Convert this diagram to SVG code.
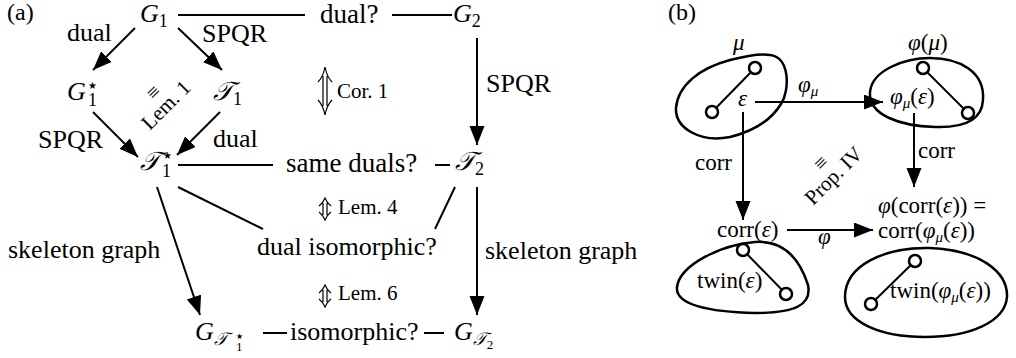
<svg xmlns="http://www.w3.org/2000/svg" width="1016" height="358" viewBox="0 0 1016 358" font-family="'Liberation Serif', 'Times New Roman', serif">
<defs>
<style>
text, tspan {font-family:'Liberation Serif', 'Times New Roman', serif}
text{fill:#000}
.t{font-size:26px}
.q{font-size:27px}
.s{font-size:21px}
.m{font-size:26px;font-style:italic}
.b{font-size:23px}
.bi{font-size:23px;font-style:italic}
.sub{font-size:18px;font-style:normal}
.ln{stroke:#000;stroke-width:2;fill:none}
.ar{stroke:#000;stroke-width:2;fill:none;marker-end:url(#ah)}
.dar{stroke:#000;stroke-width:1.2;fill:none}
.blob{stroke:#000;stroke-width:2.5;fill:none}
.v{stroke:#000;stroke-width:2.5;fill:#fff}
</style>
<marker id="ah" markerUnits="userSpaceOnUse" markerWidth="20" markerHeight="16" refX="19" refY="7.5" orient="auto">
<path d="M0,0 L19,7.5 L0,15 z" fill="#000"/>
</marker>
</defs>
<rect width="1016" height="358" fill="#fff"/>

<text class="t" x="7" y="20" style="font-size:24px">(a)</text>
<text class="t" x="668" y="20" style="font-size:24px">(b)</text>

<g id="connectors">
<line class="ln" x1="178" y1="15" x2="305" y2="15"/>
<line class="ln" x1="392" y1="15" x2="452" y2="15"/>
<line class="ln" x1="178" y1="165" x2="273" y2="165"/>
<line class="ln" x1="435" y1="165" x2="450" y2="165"/>
<line class="ln" x1="178" y1="187" x2="263" y2="229"/>
<line class="ln" x1="455" y1="187" x2="435" y2="229"/>
<line class="ln" x1="263" y1="333" x2="287" y2="333"/>
<line class="ln" x1="424" y1="333" x2="444" y2="333"/>
<line class="ar" x1="135" y1="28" x2="93" y2="70"/>
<line class="ar" x1="178" y1="28" x2="222" y2="70"/>
<line class="ar" x1="93" y1="112" x2="138" y2="157"/>
<line class="ar" x1="220" y1="112" x2="177" y2="155"/>
<line class="ar" x1="477" y1="38" x2="477" y2="145"/>
<line class="ar" x1="157" y1="187" x2="200" y2="315"/>
<line class="ar" x1="477" y1="187" x2="477" y2="315"/>
<line class="ar" x1="755" y1="102" x2="883" y2="102"/>
<line class="ar" x1="743" y1="112" x2="743" y2="220"/>
<line class="ar" x1="914" y1="113" x2="914" y2="187"/>
<line class="ar" x1="787" y1="230" x2="873" y2="230"/>
</g>

<g id="labels-a">
<text class="t" x="67" y="41">dual</text>
<text class="t" x="202" y="42">SPQR</text>
<text class="q" x="320" y="23">dual?</text>
<text class="t" x="38" y="148">SPQR</text>
<text class="t" x="213" y="147">dual</text>
<text class="t" x="486" y="92">SPQR</text>
<text class="q" x="286" y="172">same duals?</text>
<text class="t" x="257" y="255">dual isomorphic?</text>
<text class="t" x="8" y="258">skeleton graph</text>
<text class="t" x="485" y="259">skeleton graph</text>
<text class="t" x="290" y="340">isomorphic?</text>
</g>

<g id="cor1">
<path class="dar" d="M323,76 V106 M327,76 V106 M318,82 Q323,77 325,67 Q327,77 332,82 M318,100 Q323,105 325,115 Q327,105 332,100"/>
<text class="s" x="337" y="98">Cor. 1</text>
</g>
<g id="lem4">
<path class="dar" d="M323,203 V215 M327,203 V215 M319,206 Q323,203 325,198 Q327,203 331,206 M319,212 Q323,215 325,220 Q327,215 331,212"/>
<text class="s" x="338" y="214">Lem. 4</text>
</g>
<g id="lem6">
<path class="dar" d="M323,290 V302 M327,290 V302 M319,293 Q323,290 325,285 Q327,290 331,293 M319,299 Q323,302 325,307 Q327,302 331,299"/>
<text class="s" x="338" y="300">Lem. 6</text>
</g>
<g id="lem1" transform="translate(161,100) rotate(-45)">
<text class="s" x="0" y="-4" text-anchor="middle">≡</text>
<text class="s" x="0" y="14" text-anchor="middle">Lem. 1</text>
</g>

<g id="G1"><text class="m" x="140" y="22">G<tspan class="sub" dy="5">1</tspan></text></g>
<g id="G2"><text class="m" x="453" y="22">G<tspan class="sub" dy="5">2</tspan></text></g>
<g id="G1star"><text class="m" x="67" y="100">G</text><text class="sub" x="88" y="89" style="font-size:10px">★</text><text class="sub" x="88" y="106">1</text></g>
<g id="T1"><text class="m" x="213" y="100">𝒯<tspan class="sub" dy="5">1</tspan></text></g>
<g id="T1star"><text class="m" x="140" y="170">𝒯</text><text class="sub" x="163" y="159" style="font-size:10px">★</text><text class="sub" x="162" y="177">1</text></g>
<g id="T2"><text class="m" x="455" y="170">𝒯<tspan class="sub" dy="5">2</tspan></text></g>
<g id="GT1star"><text class="m" x="195" y="340">G<tspan style="font-size:18px" dy="5">𝒯</tspan></text><text class="sub" x="236" y="339" style="font-size:8px">★</text><text class="sub" x="236" y="351" style="font-size:13px">1</text></g>
<g id="GT2"><text class="m" x="454" y="340">G<tspan style="font-size:18px" dy="5">𝒯</tspan><tspan class="sub" style="font-size:13px" dy="4">2</tspan></text></g>

<g id="mu">
<path class="blob" d="M770,55 C790,57 790,90 781,104 C770,122 750,132 730,137 C700,143 675,128 676,108 C678,85 700,68 730,60 C745,56 760,53 770,55 Z"/>
<line class="ln" x1="755" y1="68" x2="712" y2="112"/>
<circle class="v" cx="755" cy="68" r="6"/>
<circle class="v" cx="712" cy="112" r="6"/>
<text class="bi" x="733" y="50">μ</text>
<text class="bi" x="738" y="106" fill="#333">ε</text>
</g>
<g id="phimu">
<path class="blob" d="M870,92 C872,70 905,58 930,58 C960,58 985,72 983,100 C982,120 965,128 935,127 C900,126 868,115 870,92 Z"/>
<line class="ln" x1="923" y1="68" x2="968" y2="113"/>
<circle class="v" cx="923" cy="68" r="6"/>
<circle class="v" cx="968" cy="113" r="6"/>
<text class="b" x="908" y="50"><tspan font-style="italic">φ</tspan>(<tspan font-style="italic">μ</tspan>)</text>
<text class="b" x="890" y="104"><tspan font-style="italic">φ</tspan><tspan font-style="italic" font-size="15" dy="4">μ</tspan><tspan dy="-4">(</tspan><tspan font-style="italic">ε</tspan>)</text>
</g>
<g id="twin1">
<path class="blob" d="M677,287 C680,265 720,245 755,242 C785,240 800,260 808,285 C812,305 795,313 755,313 C710,312 675,305 677,287 Z"/>
<line class="ln" x1="743" y1="250" x2="786" y2="294"/>
<circle class="v" cx="743" cy="250" r="6"/>
<circle class="v" cx="786" cy="294" r="6"/>
<text class="b" x="717" y="237">corr(<tspan font-style="italic">ε</tspan>)</text>
<text class="b" x="697" y="288">twin(<tspan font-style="italic">ε</tspan>)</text>
</g>
<g id="twin2">
<path class="blob" d="M845,297 C845,265 885,247 930,248 C980,250 1008,272 1007,297 C1005,322 970,337 925,337 C880,337 845,322 845,297 Z"/>
<line class="ln" x1="915" y1="261" x2="871" y2="304"/>
<circle class="v" cx="915" cy="261" r="6"/>
<circle class="v" cx="871" cy="304" r="6"/>
<text class="b" x="878" y="213"><tspan font-style="italic">φ</tspan>(corr(<tspan font-style="italic">ε</tspan>)) =</text>
<text class="b" x="878" y="238">corr(<tspan font-style="italic">φ</tspan><tspan font-style="italic" font-size="15" dy="4">μ</tspan><tspan dy="-4">(</tspan><tspan font-style="italic">ε</tspan>))</text>
<text class="b" x="890" y="298">twin(<tspan font-style="italic">φ</tspan><tspan font-style="italic" font-size="15" dy="4">μ</tspan><tspan dy="-4">(</tspan><tspan font-style="italic">ε</tspan>))</text>
</g>
<g id="labels-b">
<text class="b" x="798" y="92"><tspan font-style="italic">φ</tspan><tspan font-style="italic" font-size="15" dy="4">μ</tspan></text>
<text class="b" x="695" y="170">corr</text>
<text class="b" x="918" y="158">corr</text>
<text class="bi" x="818" y="244">φ</text>
</g>
<g id="prop4" transform="translate(830,172) rotate(-45)">
<text class="s" x="0" y="-6" text-anchor="middle">≡</text>
<text class="s" x="0" y="12" text-anchor="middle">Prop. IV</text>
</g>
</svg>
